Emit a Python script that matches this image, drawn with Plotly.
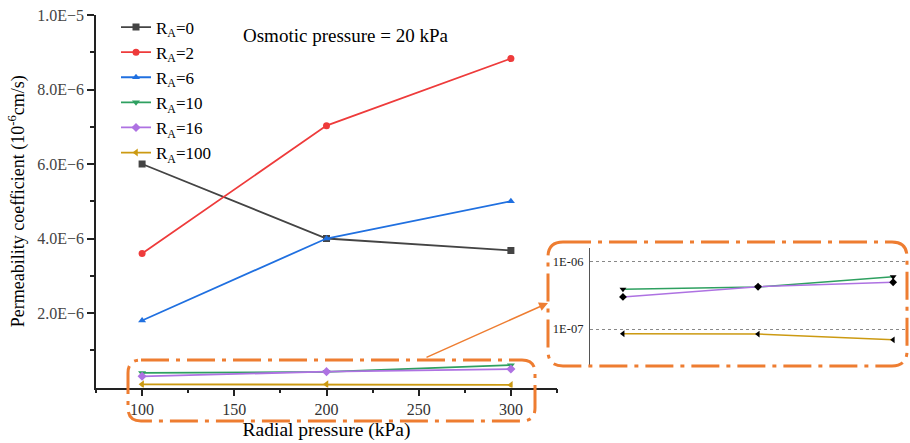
import plotly.graph_objects as go

W, H = 910, 443

# ---- data ----
radial_pressure = [100, 200, 300]
series_names = ["R<sub>A</sub>=0", "R<sub>A</sub>=2", "R<sub>A</sub>=6",
                "R<sub>A</sub>=10", "R<sub>A</sub>=16", "R<sub>A</sub>=100"]
ra0 = [6.0e-6, 4.0e-6, 3.68e-6]
ra2 = [3.6e-6, 7.03e-6, 8.83e-6]
ra6 = [1.8e-6, 4.0e-6, 5.0e-6]
ra10 = [3.9e-7, 4.2e-7, 6.0e-7]
ra16 = [3.0e-7, 4.25e-7, 4.95e-7]
ra100 = [8.5e-8, 8.4e-8, 6.9e-8]
series_values = [ra0, ra2, ra6, ra10, ra16, ra100]
colors = ["#444444", "#EE3B3B", "#2070E0", "#2EA060", "#AE72E2", "#CC9A12"]
symbols = ["square", "circle", "triangle-up", "triangle-down", "diamond", "triangle-left"]

x_ticks = [100, 150, 200, 250, 300]
y_tickvals = [2e-6, 4e-6, 6e-6, 8e-6, 1e-5]
y_ticktext = ["2.0E−6", "4.0E−6", "6.0E−6", "8.0E−6", "1.0E−5"]
inset_tickvals = [1e-7, 1e-6]
inset_ticktext = ["1E-07", "1E-06"]

FONT = "Liberation Serif, Times New Roman, serif"
ORANGE = "#EE7D31"


def px(x):
    return x / W


def py(y):
    return 1 - y / H


fig = go.Figure()

for name, vals, c, s in zip(series_names, series_values, colors, symbols):
    fig.add_trace(go.Scatter(
        x=radial_pressure, y=vals, name=name, mode="lines+markers",
        line=dict(color=c, width=1.8),
        marker=dict(symbol=s, size=7, color=c),
        xaxis="x", yaxis="y"))

# inset (log scale) for small series
for idx in [3, 4, 5]:
    fig.add_trace(go.Scatter(
        x=radial_pressure, y=series_values[idx], mode="lines+markers",
        showlegend=False,
        line=dict(color=colors[idx], width=1.5),
        marker=dict(symbol=symbols[idx], size=6, color="black"),
        xaxis="x2", yaxis="y2"))


def rounded_rect(x0, y0, x1, y1, r):
    X = lambda v: px(v)
    Y = lambda v: py(v)
    return (f"M {X(x0 + r)},{Y(y0)} L {X(x1 - r)},{Y(y0)} "
            f"Q {X(x1)},{Y(y0)} {X(x1)},{Y(y0 + r)} "
            f"L {X(x1)},{Y(y1 - r)} Q {X(x1)},{Y(y1)} {X(x1 - r)},{Y(y1)} "
            f"L {X(x0 + r)},{Y(y1)} Q {X(x0)},{Y(y1)} {X(x0)},{Y(y1 - r)} "
            f"L {X(x0)},{Y(y0 + r)} Q {X(x0)},{Y(y0)} {X(x0 + r)},{Y(y0)} Z")


dash = "28px,7px,4px,7px"
shapes = [
    dict(type="path", xref="paper", yref="paper",
         path=rounded_rect(128, 360, 535, 421, 13),
         line=dict(color=ORANGE, width=3, dash=dash)),
    dict(type="path", xref="paper", yref="paper",
         path=rounded_rect(548, 242, 907, 366, 15),
         line=dict(color=ORANGE, width=3, dash=dash)),
]

annotations = [
    dict(text="Osmotic pressure = 20 kPa", xref="paper", yref="paper",
         x=px(241), y=py(35), xanchor="left", yanchor="middle",
         showarrow=False, font=dict(family=FONT, size=19, color="black")),
    dict(text="", xref="paper", yref="paper", x=px(548), y=py(303),
         ax=425 - 548, ay=358 - 303, axref="pixel", ayref="pixel",
         showarrow=True, arrowhead=2, arrowsize=1.2, arrowwidth=1.5,
         arrowcolor=ORANGE),
]

fig.update_layout(
    width=W, height=H,
    margin=dict(l=0, r=0, t=0, b=0, autoexpand=False),
    paper_bgcolor="white", plot_bgcolor="white",
    font=dict(family=FONT, size=15, color="black"),
    showlegend=True,
    legend=dict(x=px(116), y=py(9.5), xanchor="left", yanchor="top",
                bgcolor="rgba(0,0,0,0)", font=dict(family=FONT, size=17),
                tracegroupgap=0),
    xaxis=dict(domain=[px(96), px(557)], range=[75, 325], automargin=False,
               tickmode="array", tickvals=x_ticks,
               ticks="outside", ticklen=7, tickwidth=1.5, tickcolor="#222",
               minor=dict(tickmode="array", tickvals=[75, 125, 175, 225, 275, 325],
                          ticks="outside", ticklen=4, tickwidth=1.5, tickcolor="#222"),
               showline=True, linecolor="#222", linewidth=1.5,
               showgrid=False, zeroline=False,
               tickfont=dict(size=16, color="#333"),
               title=dict(text="Radial pressure (kPa)", font=dict(size=19.5), standoff=5),
               anchor="y"),
    yaxis=dict(domain=[py(387.5), py(15)], range=[0, 1e-5], automargin=False,
               tickmode="array", tickvals=y_tickvals, ticktext=y_ticktext,
               ticks="outside", ticklen=7, tickwidth=1.5, tickcolor="#222",
               minor=dict(tickmode="array",
                          tickvals=[1e-6, 3e-6, 5e-6, 7e-6, 9e-6],
                          ticks="outside", ticklen=4, tickwidth=1.5, tickcolor="#222"),
               showline=True, linecolor="#222", linewidth=1.5,
               showgrid=False, zeroline=False,
               tickfont=dict(size=16, color="#444"),
               title=dict(text="Permeability coefficient (10<sup>-6</sup>cm/s)",
                          font=dict(size=18), standoff=8),
               anchor="x"),
    xaxis2=dict(domain=[px(590), px(908)], range=[75.6, 311], automargin=False,
                showticklabels=False, ticks="", showline=False,
                showgrid=False, zeroline=False, anchor="y2"),
    yaxis2=dict(domain=[py(365), py(248)], type="log", range=[-7.535, -5.796],
                automargin=False,
                tickmode="array", tickvals=inset_tickvals, ticktext=inset_ticktext,
                ticks="", ticklabelstandoff=3, showline=True, linecolor="#555",
                linewidth=1.2,
                showgrid=True, gridcolor="#888", griddash="dot", gridwidth=1,
                zeroline=False, tickfont=dict(size=12.5, color="#222"),
                anchor="x2"),
    shapes=shapes,
    annotations=annotations,
)

fig.write_html("out.html", config={"displayModeBar": False},
               post_script="document.body.style.margin='0';document.body.style.overflow='hidden';")
